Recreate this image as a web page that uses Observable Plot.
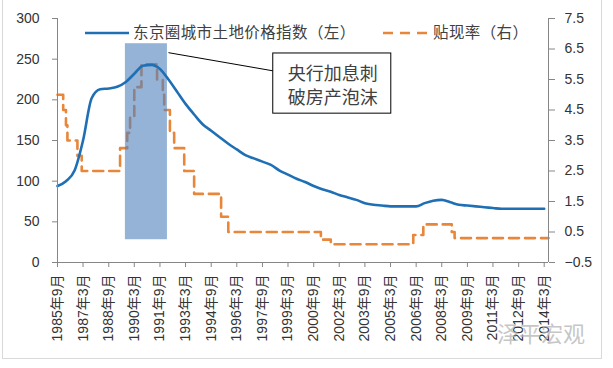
<!DOCTYPE html>
<html><head><meta charset="utf-8">
<script src="https://cdn.jsdelivr.net/npm/d3@7"></script>
<script src="https://cdn.jsdelivr.net/npm/@observablehq/plot@0.6"></script>
<style>
body{margin:0;background:#fff;}
#wrap{position:relative;width:613px;height:368px;font-family:"Liberation Sans","Noto Sans CJK SC",sans-serif;color:#333;}
#border{position:absolute;left:2px;top:-1px;width:600px;height:360px;border:1px solid #d9d9d9;box-sizing:border-box;pointer-events:none;}
.ov{position:absolute;white-space:nowrap;}
</style></head>
<body><div id="wrap"><div id="border"></div></div>
<script>
// ---- data ----
const xTickLabels = ["1985年9月","1987年3月","1988年9月","1990年3月","1991年9月","1993年3月","1994年9月","1996年3月","1997年9月","1999年3月","2000年9月","2002年3月","2003年9月","2005年3月","2006年9月","2008年3月","2009年9月","2011年3月","2012年9月","2014年3月"];
const leftTicks = [0,50,100,150,200,250,300];
const rightTicks = [-0.5,0.5,1.5,2.5,3.5,4.5,5.5,6.5,7.5];
// 东京圈城市土地价格指数, semiannual (Mar / Sep) starting 1985年9月
const priceStart = [1985, 9];
const priceIndex = [94,100,113,150,202,213,214,216,222,232,242,243,238,225,210,195,182,170,162,154,146,139,132,128,124,120,113,108,103,99,94,90,87,83,80,77,73,71,70,69,69,69,69,73,76,77,74,71,70,69,68,67,66,66,66,66,66,66];
// 贴现率 change points
const rateDates = ["1985-09","1986-01","1986-03","1986-04","1986-11","1987-02","1989-05","1989-10","1989-12","1990-03","1990-08","1991-07","1991-11","1991-12","1992-04","1992-07","1993-02","1993-09","1995-04","1995-09","2001-02","2001-03","2001-09","2006-07","2007-02","2008-10","2008-12","2014-06"];
const rateValues = [5.0,4.5,4.0,3.5,3.0,2.5,3.25,3.75,4.25,5.25,6.0,5.5,5.0,4.5,3.75,3.25,2.5,1.75,1.0,0.5,0.35,0.25,0.1,0.4,0.75,0.5,0.3,0.3];
const seriesNames = ["东京圈城市土地价格指数（左）","贴现率（右）"];
const noteLines = ["央行加息刺","破房产泡沫"];
const shade = {start:"1989-08-23", end:"1992-02-08", low:28, high:269};
const noteBox = {start:"1998-04-20", end:"2005-03-18", low:183, high:257};
const noteText = {at:"2001-10-15", y:[232,202.5]};
const connector = {from:["1992-03-01",258], to:["1998-04-20",235.6]};
const xDomain = ["1985-09-01","2014-06-01"];
const leftDomain = [0,300];
const rightDomain = [-0.5,7.5];
const watermark = "泽平宏观";

// ---- helpers ----
const blue = "#1f6fb5", orange = "#e8863a", axisGray = "#868686";
const pd = s => new Date(s.length === 7 ? s + "-01T00:00:00Z" : s + "T00:00:00Z");
const toLeft = v => (v - rightDomain[0]) * (leftDomain[1] - leftDomain[0]) / (rightDomain[1] - rightDomain[0]);
const fromLeft = y => y * (rightDomain[1] - rightDomain[0]) / (leftDomain[1] - leftDomain[0]) + rightDomain[0];
const tickDates = xTickLabels.map(s => { const m = s.match(/(\d+)年(\d+)月/); return new Date(Date.UTC(+m[1], +m[2]-1, 1)); });
const labelOf = new Map(tickDates.map((d,i)=>[+d, xTickLabels[i]]));
const t0 = new Date(Date.UTC(priceStart[0], priceStart[1]-1, 1));
const price = priceIndex.map((v,i)=>({date:d3.utcMonth.offset(t0, 6*i), value:v}));
const rate = rateDates.map((d,i)=>({date:pd(d), value:rateValues[i]}));
const xd = xDomain.map(pd);

const plot = Plot.plot({
  width: 613, height: 368,
  marginLeft: 57, marginRight: 65, marginTop: 18, marginBottom: 106,
  style: {fontFamily: '"Liberation Sans","Noto Sans CJK SC",sans-serif', fontSize: "14px", color: "#333", background: "transparent", overflow: "visible"},
  x: {type: "utc", domain: xd},
  y: {domain: leftDomain},
  marks: [
    Plot.line(rate, {x:"date", y:d=>toLeft(d.value), curve:"step-after", stroke:orange, strokeWidth:2.6, strokeDasharray:"10,6"}),
    Plot.rect([shade], {x1:d=>pd(d.start), x2:d=>pd(d.end), y1:"low", y2:"high", fill:"rgb(78,128,188)", fillOpacity:0.6}),
    Plot.line(price, {x:"date", y:"value", curve:"monotone-x", stroke:blue, strokeWidth:2.6}),
    Plot.link([connector], {x1:d=>pd(d.from[0]), y1:d=>d.from[1], x2:d=>pd(d.to[0]), y2:d=>d.to[1], stroke:"#000", strokeWidth:1}),
    Plot.rect([noteBox], {x1:d=>pd(d.start), x2:d=>pd(d.end), y1:"low", y2:"high", fill:"#fff", stroke:"#000", strokeWidth:1}),
    Plot.text(noteLines, {x:()=>pd(noteText.at), y:(d,i)=>noteText.y[i], text:d=>d, fontSize:18, fill:"#404040", textAnchor:"middle", style:{letterSpacing:"1px"}}),
    Plot.ruleY([leftDomain[0]], {stroke:axisGray}),
    Plot.ruleX([xd[0]], {y1:leftDomain[0], y2:leftDomain[1], stroke:axisGray}),
    Plot.ruleX([xd[1]], {y1:leftDomain[0], y2:leftDomain[1], stroke:axisGray}),
    Plot.axisX({ticks: tickDates, tickFormat: d=>labelOf.get(+d), tickRotate:-90, tickSize:5, tickPadding:7, fontSize:14, stroke:axisGray, fill:"#333", label:null, style:{letterSpacing:"0.6px"}}),
    Plot.axisY({ticks: leftTicks, tickSize:5, tickPadding:13, fontSize:14, stroke:axisGray, fill:"#333", label:null}),
    Plot.axisY({anchor:"right", ticks: rightTicks.map(toLeft), tickFormat: d=>d3.format(".1f")(fromLeft(d)), tickSize:6, tickPadding:10, fontSize:14, stroke:axisGray, fill:"#333", label:null})
  ]
});
const wrap = document.getElementById("wrap");
wrap.insertBefore(plot, wrap.firstChild);

// legend (inside plot area)
const leg = document.createElement("div");
leg.innerHTML = `
<svg class="ov" style="left:85px;top:28px" width="44" height="10"><line x1="0" y1="5" x2="44" y2="5" stroke="${blue}" stroke-width="2.6"/></svg>
<div class="ov" style="left:133px;top:22px;font-size:15.5px;letter-spacing:0.4px;line-height:22px;color:#404040;">${seriesNames[0]}</div>
<svg class="ov" style="left:383px;top:28px" width="44" height="10"><line x1="0" y1="5" x2="44" y2="5" stroke="${orange}" stroke-width="2.6" stroke-dasharray="10,7"/></svg>
<div class="ov" style="left:433px;top:22px;font-size:15.5px;letter-spacing:0.4px;line-height:22px;color:#404040;">${seriesNames[1]}</div>
<div class="ov" style="left:497px;top:322px;font-size:22px;line-height:26px;color:rgba(180,180,180,0.75);">${watermark}</div>`;
while (leg.firstChild) wrap.appendChild(leg.firstChild);
</script>
</body></html>
